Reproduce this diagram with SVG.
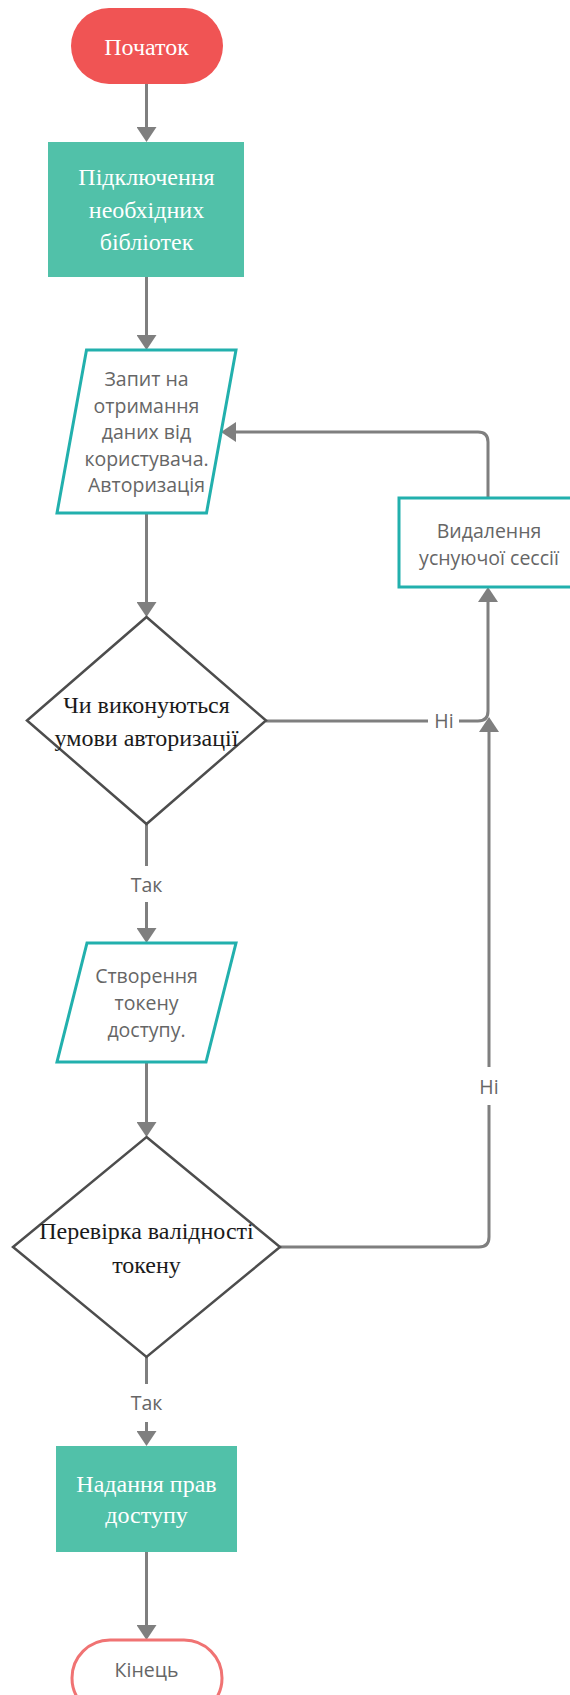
<svg xmlns="http://www.w3.org/2000/svg" width="570" height="1695" viewBox="0 0 570 1695">
<defs>
<marker id="arr" viewBox="0 0 15 20" refX="0" refY="10" markerWidth="15" markerHeight="20" markerUnits="userSpaceOnUse" orient="auto">
<path d="M0,0 L15,10 L0,20 z" fill="#7f7f7f"/>
</marker>
</defs>
<style>
.c{fill:none;stroke:#7f7f7f;stroke-width:3}
.ca{fill:none;stroke:#7f7f7f;stroke-width:3;marker-end:url(#arr)}
.serifw{font-family:"Liberation Serif","Times New Roman",serif;font-size:24px;fill:#ffffff;text-anchor:middle}
.serifb{font-family:"Liberation Serif","Times New Roman",serif;font-size:24px;fill:#1a1a1a;text-anchor:middle}
.sans{font-family:"Open Sans","Noto Sans",sans-serif;font-size:19.5px;fill:#666666;text-anchor:middle}
.lbl{font-family:"Open Sans","Noto Sans",sans-serif;font-size:19.5px;fill:#666666;text-anchor:middle}
.green{fill:#51c1a9}
.io{fill:#ffffff;stroke:#22b0ad;stroke-width:3}
.dec{fill:#ffffff;stroke:#4d4d4d;stroke-width:2.5}
</style>
<g id="connectors">
<path class="ca" d="M146.5,84 V127"/>
<path class="ca" d="M146.5,277 V335"/>
<path class="ca" d="M146.5,513 V602"/>
<path class="c" d="M146.5,824 V866"/>
<path class="ca" d="M146.5,902 V928"/>
<path class="ca" d="M146.5,1062 V1122"/>
<path class="c" d="M146.5,1357 V1384"/>
<path class="ca" d="M146.5,1422 V1431"/>
<path class="ca" d="M146.5,1552 V1625"/>
<path class="c" d="M266,721 H428"/>
<path class="ca" d="M459,721 H478 Q488,721 488,711 V602"/>
<path class="c" d="M280,1247 H479 Q489,1247 489,1237 V1105"/>
<path class="ca" d="M489,1067 V732"/>
<path class="ca" d="M488,498 V442 Q488,432 478,432 H236"/>
<text class="lbl" x="146.5" y="892">Так</text>
<text class="lbl" x="146.5" y="1410">Так</text>
<text class="lbl" x="444" y="728">Ні</text>
<text class="lbl" x="489" y="1094">Ні</text>
</g>
<g id="start">
<rect x="71" y="8" width="152" height="76" rx="38" fill="#f05454"/>
<text class="serifw" x="146.5" y="55">Початок</text>
</g>
<g id="libs">
<rect class="green" x="48" y="142" width="196" height="135"/>
<text class="serifw" x="146.5" y="185">Підключення</text>
<text class="serifw" x="146.5" y="218">необхідних</text>
<text class="serifw" x="146.5" y="250">бібліотек</text>
</g>
<g id="request">
<polygon class="io" points="86.5,350 236,350 206.5,513 57,513"/>
<text class="sans" x="146.5" y="386">Запит на</text>
<text class="sans" x="146.5" y="413">отримання</text>
<text class="sans" x="146.5" y="439">даних від</text>
<text class="sans" x="146.5" y="466">користувача.</text>
<text class="sans" x="146.5" y="492">Авторизація</text>
</g>
<g id="delete">
<rect class="io" x="399" y="498" width="180" height="89"/>
<text class="sans" x="489" y="538">Видалення</text>
<text class="sans" x="489" y="565">уснуючої сессії</text>
</g>
<g id="check-auth">
<polygon class="dec" points="146.5,617 266,720.5 146.5,824 27,720.5"/>
<text class="serifb" x="146.5" y="713">Чи виконуються</text>
<text class="serifb" x="146.5" y="746">умови авторизації</text>
</g>
<g id="token">
<polygon class="io" points="87,943 236,943 206,1062 57,1062"/>
<text class="sans" x="146.5" y="983">Створення</text>
<text class="sans" x="146.5" y="1010">токену</text>
<text class="sans" x="146.5" y="1037">доступу.</text>
</g>
<g id="check-token">
<polygon class="dec" points="146.5,1137 280,1247 146.5,1357 13,1247"/>
<text class="serifb" x="146.5" y="1239">Перевірка валідності</text>
<text class="serifb" x="146.5" y="1273">токену</text>
</g>
<g id="grant">
<rect class="green" x="56" y="1446" width="181" height="106"/>
<text class="serifw" x="146.5" y="1492">Надання прав</text>
<text class="serifw" x="146.5" y="1523">доступу</text>
</g>
<g id="end">
<rect x="72" y="1640" width="150" height="76" rx="38" fill="#ffffff" stroke="#f07373" stroke-width="3"/>
<text class="sans" x="146.5" y="1677">Кінець</text>
</g>
</svg>
